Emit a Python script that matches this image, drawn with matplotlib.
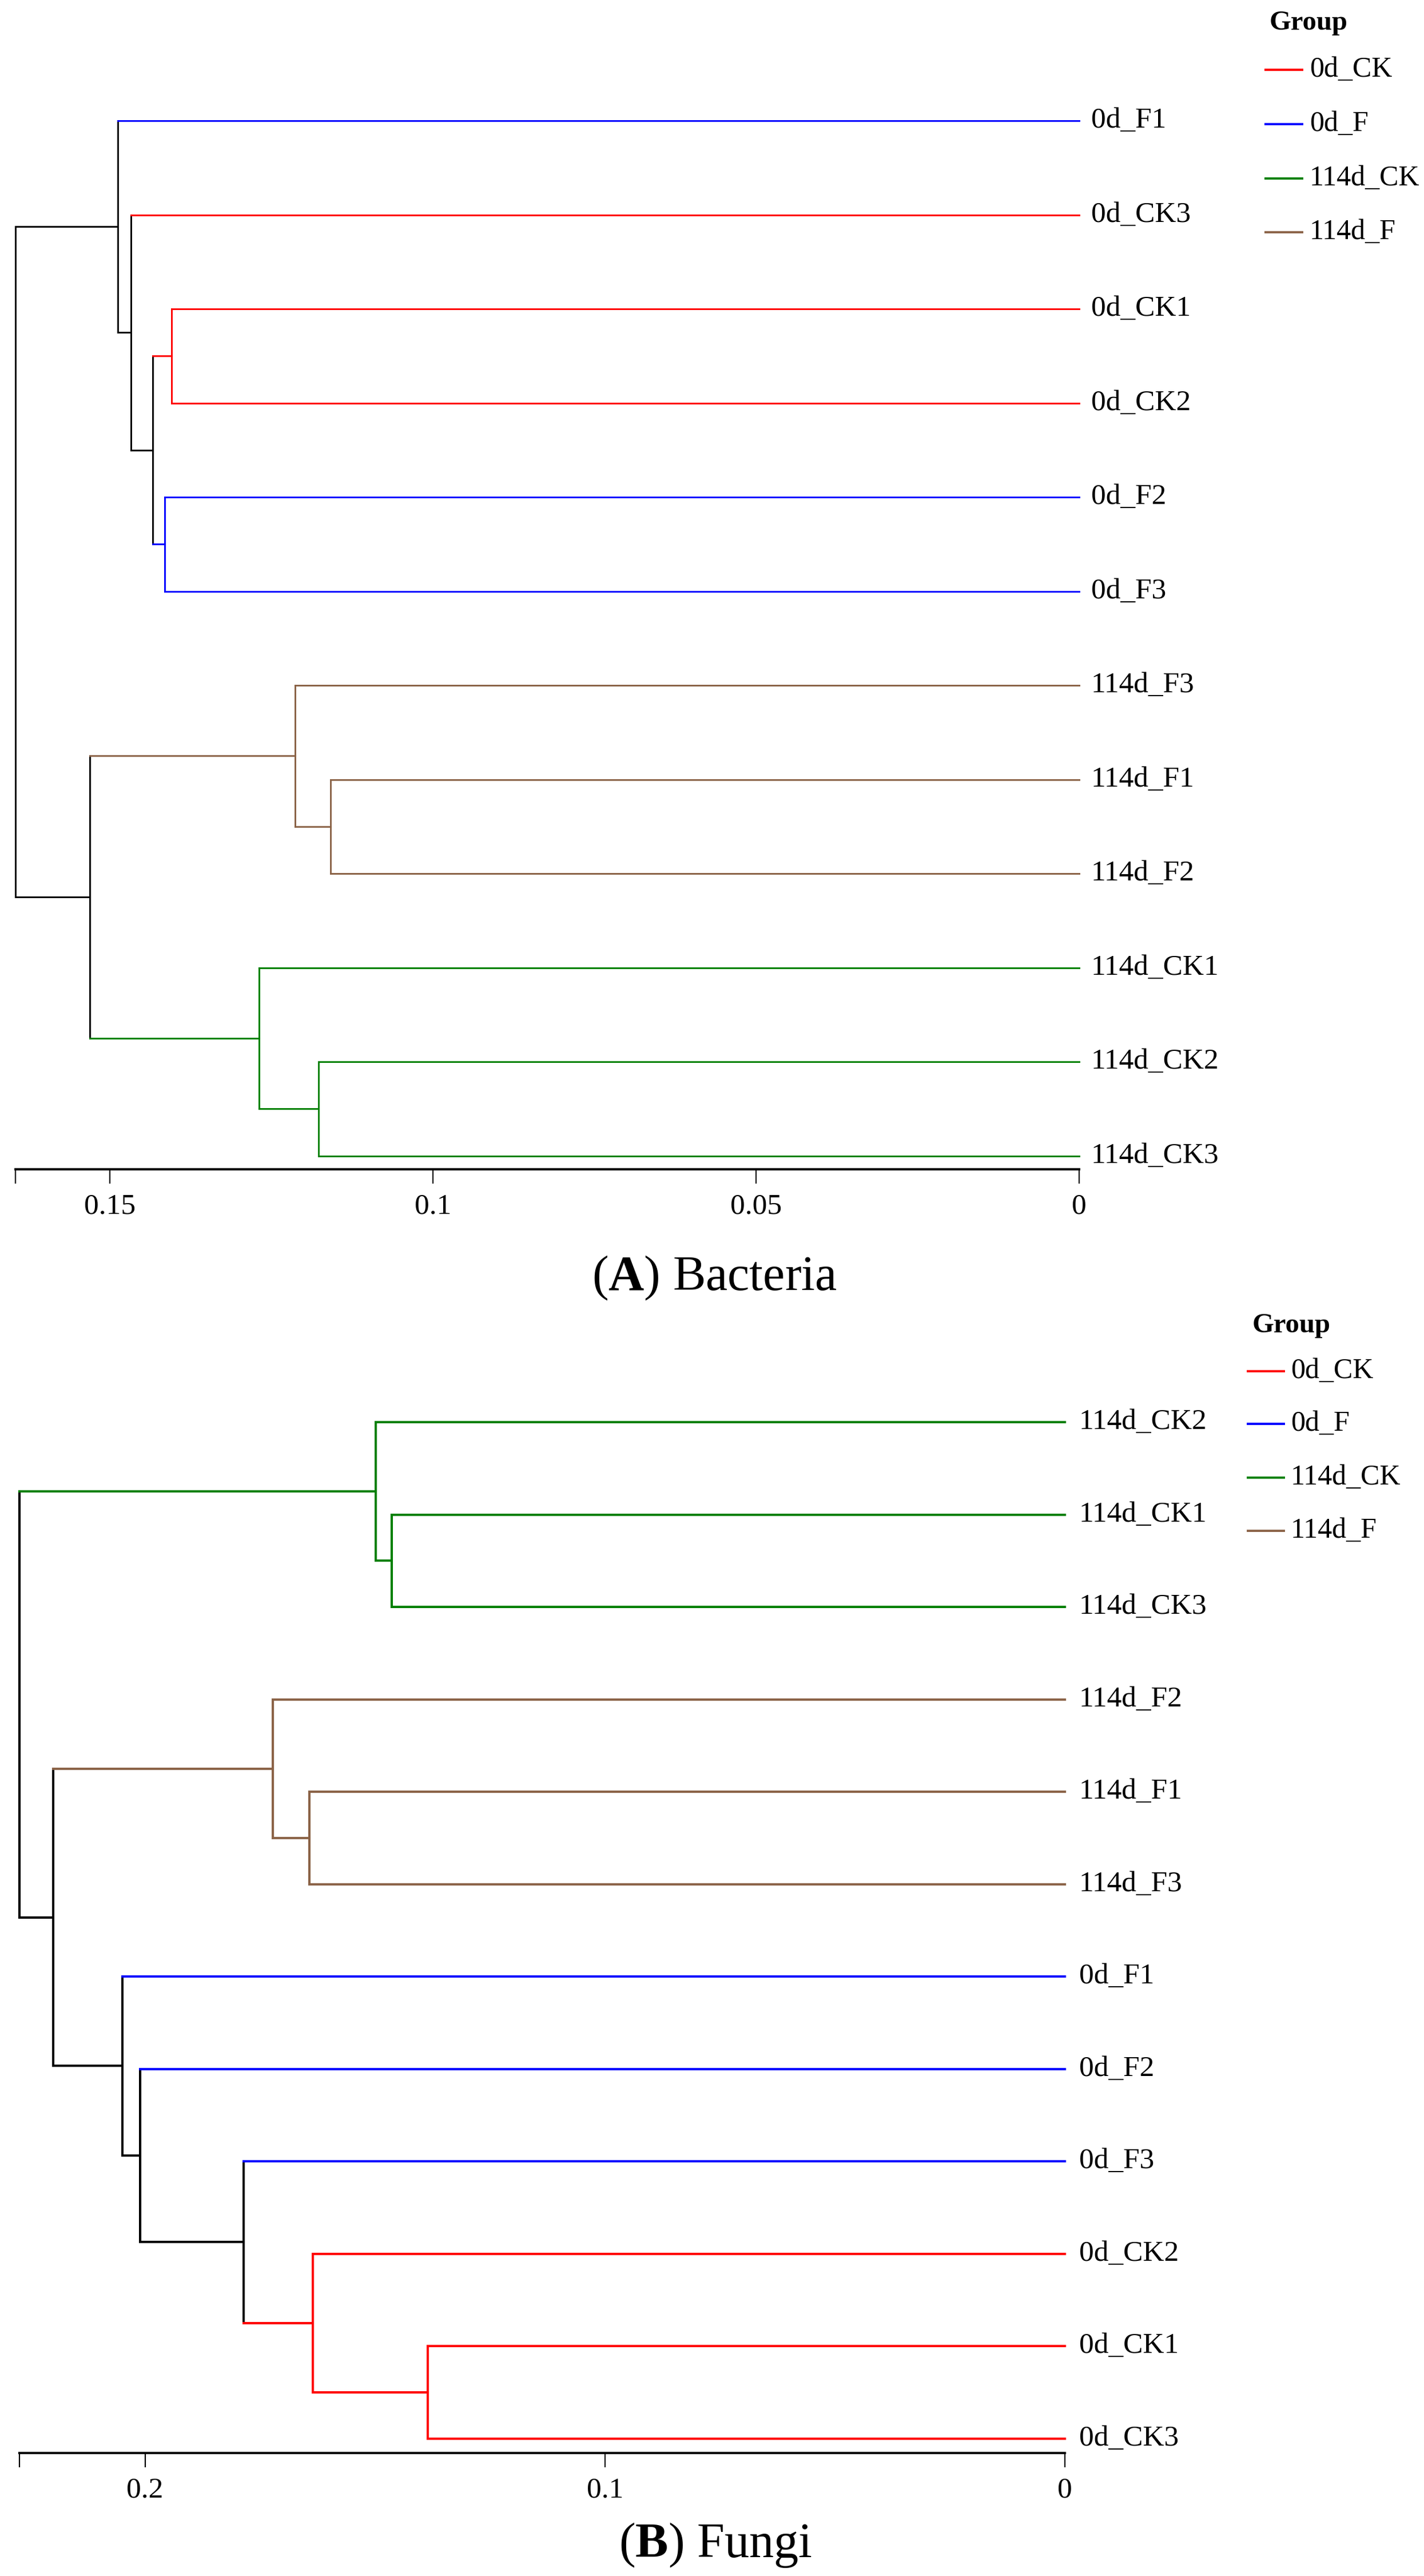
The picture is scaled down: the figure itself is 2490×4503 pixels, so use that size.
import matplotlib
matplotlib.use("Agg")
import matplotlib.pyplot as plt
from matplotlib.lines import Line2D

plt.rcParams['font.family'] = ['Liberation Serif', 'DejaVu Serif']
plt.rcParams['mathtext.fontset'] = 'custom'
plt.rcParams['mathtext.rm'] = 'Liberation Serif'
plt.rcParams['mathtext.bf'] = 'Liberation Serif:bold'

# ---------------- data ----------------
group_names = ['0d_CK', '0d_F', '114d_CK', '114d_F']
group_colors = ['#FF0000', '#0000FF', '#008000', '#8B6347']

# Bacteria (A)
bac_leaves = ['0d_F1', '0d_CK3', '0d_CK1', '0d_CK2', '0d_F2', '0d_F3',
              '114d_F3', '114d_F1', '114d_F2', '114d_CK1', '114d_CK2', '114d_CK3']
bac_groups = ['0d_F', '0d_CK', '0d_CK', '0d_CK', '0d_F', '0d_F',
              '114d_F', '114d_F', '114d_F', '114d_CK', '114d_CK', '114d_CK']
# linkage: merge k creates node id len(leaves)+k
bac_merge_a = [7, 10, 6, 9, 2, 4, 16, 1, 0, 14, 20]
bac_merge_b = [8, 11, 12, 13, 3, 5, 17, 18, 19, 15, 21]
bac_height = [0.1158, 0.1177, 0.1213, 0.1269, 0.1404, 0.1415, 0.1434,
              0.1467, 0.1488, 0.1531, 0.1646]
bac_ticks = [0.15, 0.1, 0.05, 0]
bac_ticklabels = ['0.15', '0.1', '0.05', '0']

# Fungi (B)
fun_leaves = ['114d_CK2', '114d_CK1', '114d_CK3', '114d_F2', '114d_F1', '114d_F3',
              '0d_F1', '0d_F2', '0d_F3', '0d_CK2', '0d_CK1', '0d_CK3']
fun_groups = ['114d_CK', '114d_CK', '114d_CK', '114d_F', '114d_F', '114d_F',
              '0d_F', '0d_F', '0d_F', '0d_CK', '0d_CK', '0d_CK']
fun_merge_a = [10, 1, 0, 9, 4, 3, 8, 7, 6, 17, 14]
fun_merge_b = [11, 2, 13, 12, 5, 16, 15, 18, 19, 20, 21]
fun_height = [0.1385, 0.1464, 0.1498, 0.1635, 0.1643, 0.1722, 0.1786,
              0.2011, 0.2049, 0.2200, 0.2273]
fun_ticks = [0.2, 0.1, 0]
fun_ticklabels = ['0.2', '0.1', '0']

# ---------------- layout ----------------
W, H = 2490, 4503
fig = plt.figure(figsize=(W / 100, H / 100), dpi=100)
color_of = dict(zip(group_names, group_colors))


def fx(px):
    return px / W


def fy(py):
    return 1 - py / H


def draw_tree(ax, leaves, groups, ma, mb, hts, lw):
    n = len(leaves)
    xpos = {i: 0.0 for i in range(n)}
    ypos = {i: float(i) for i in range(n)}
    mem = {i: {groups[i]} for i in range(n)}
    for k, (a, b, h) in enumerate(zip(ma, mb, hts)):
        nid = n + k
        xpos[nid] = h
        ypos[nid] = (ypos[a] + ypos[b]) / 2
        mem[nid] = mem[a] | mem[b]

    def col(node):
        s = mem[node]
        return color_of[next(iter(s))] if len(s) == 1 else 'black'

    kw = dict(lw=lw, solid_capstyle='projecting', clip_on=False)
    for k, (a, b, h) in enumerate(zip(ma, mb, hts)):
        nid = n + k
        ax.plot([h, h], [ypos[a], ypos[b]], color=col(nid), **kw)
        for c in (a, b):
            ax.plot([h, xpos[c]], [ypos[c], ypos[c]], color=col(c), **kw)
    return ypos


def panel(leaves, groups, ma, mb, hts, ticks, ticklabels,
          x_left, x_right, y_first, step, y_axis, lw, label_off):
    root = max(hts)
    top_px = y_first - 0.5 * step
    ax = fig.add_axes([fx(x_left), fy(y_axis), fx(x_right) - fx(x_left),
                       (y_axis - top_px) / H])
    ax.set_xlim(root, 0)
    ax.set_ylim((y_axis - y_first) / step, -0.5)
    for s in ['top', 'left', 'right']:
        ax.spines[s].set_visible(False)
    ax.spines['bottom'].set_linewidth(2.9)
    ax.set_yticks([])
    ax.set_xticks(ticks)
    ax.set_xticklabels(ticklabels)
    ax.set_xticks([root], minor=True)
    ax.tick_params(axis='x', which='both', length=18, width=1.6,
                   direction='out', pad=12, labelsize=37)
    ax.patch.set_alpha(0)
    draw_tree(ax, leaves, groups, ma, mb, hts, lw)
    for i, name in enumerate(leaves):
        ax.annotate(name, xy=(0, i), xytext=(label_off, 0),
                    textcoords='offset pixels', ha='left', va='center',
                    fontsize=37, annotation_clip=False)
    return ax


def legend(x_title, y_title, x_line0, x_line1, x_text, ys):
    fig.text(fx(x_title), fy(y_title), 'Group', fontsize=35, fontweight='bold',
             ha='left', va='center')
    for g, y in zip(group_names, ys):
        fig.add_artist(Line2D([fx(x_line0), fx(x_line1)], [fy(y), fy(y)],
                              color=color_of[g], lw=2.8,
                              transform=fig.transFigure))
        fig.text(fx(x_text), fy(y), g, fontsize=36, ha='left', va='center')


panel(bac_leaves, bac_groups, bac_merge_a, bac_merge_b, bac_height,
      bac_ticks, bac_ticklabels, 27, 1887, 211, 164.5, 2044, 2.1, 21)
panel(fun_leaves, fun_groups, fun_merge_a, fun_merge_b, fun_height,
      fun_ticks, fun_ticklabels, 34, 1862, 2486, 161.5, 4288, 2.9, 25)

legend(2220, 40, 2213, 2277, 2290, [122, 217, 312, 406])
legend(2190, 2317, 2182, 2245, 2257, [2397, 2489, 2583, 2676])

fig.text(fx(1249), fy(2255), r'($\mathbf{A}$) Bacteria', fontsize=62,
         ha='center', va='baseline')
fig.text(fx(1251), fy(4470), r'($\mathbf{B}$) Fungi', fontsize=62,
         ha='center', va='baseline')

fig.savefig('out.png', dpi=100, facecolor='white')
